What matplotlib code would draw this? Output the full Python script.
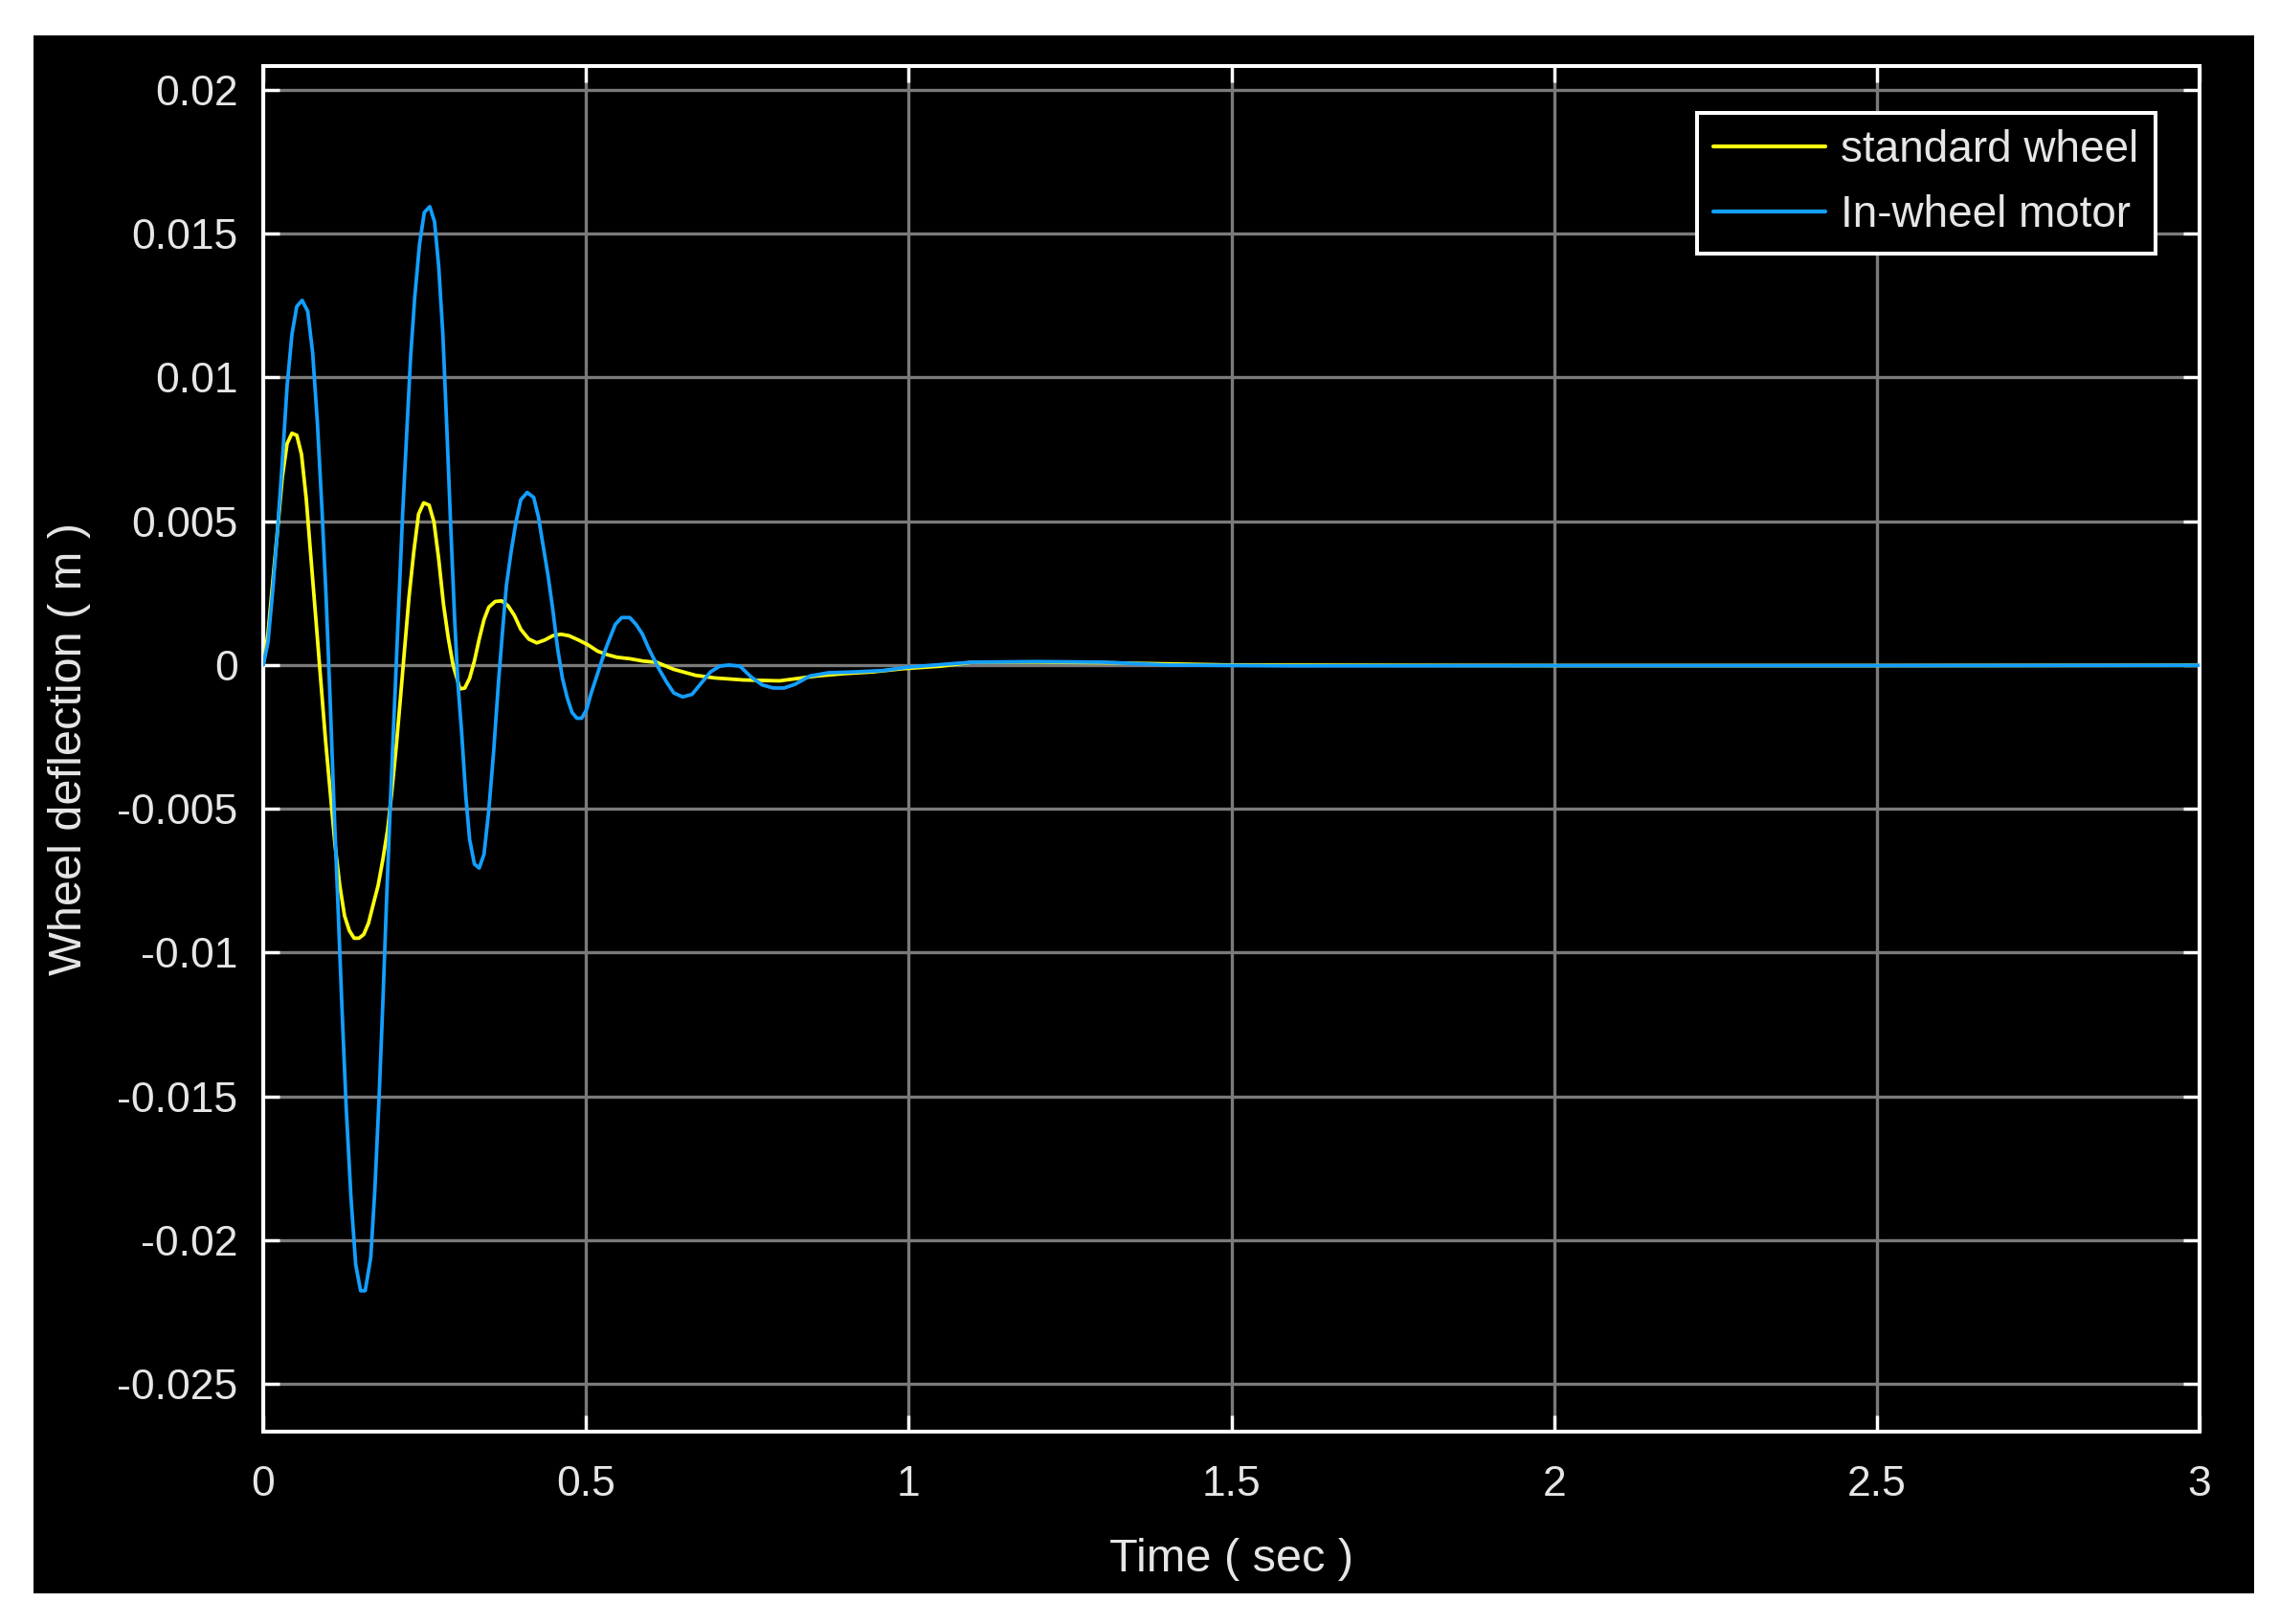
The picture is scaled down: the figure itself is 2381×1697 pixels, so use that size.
import matplotlib
matplotlib.use("Agg")
import matplotlib.pyplot as plt
from matplotlib.patches import Rectangle

# ---- data ----
t_std = [0.0, 0.0074, 0.0148, 0.0222, 0.0297, 0.037, 0.0445, 0.052, 0.0593, 0.0667,
         0.0741, 0.0816, 0.089, 0.0964, 0.1038, 0.1112, 0.1186, 0.126, 0.1335, 0.1409,
         0.1483, 0.1557, 0.1631, 0.1705, 0.178, 0.1854, 0.1928, 0.1992, 0.2061, 0.2126,
         0.219, 0.2259, 0.2333, 0.2407, 0.2486, 0.257, 0.2645, 0.2719, 0.2793, 0.2867,
         0.2941, 0.3049, 0.3123, 0.3198, 0.3272, 0.3346, 0.3421, 0.3495, 0.3594, 0.3694,
         0.3793, 0.3892, 0.3991, 0.4115, 0.4239, 0.4363, 0.4487, 0.4611, 0.4735, 0.4884,
         0.5033, 0.5182, 0.533, 0.5479, 0.5678, 0.5876, 0.61, 0.636, 0.67, 0.70,
         0.744, 0.80, 0.858, 0.90, 0.944, 0.99, 1.05, 1.1, 1.2, 1.3,
         1.5, 2.0, 2.5, 3.0]
y_std = [0.0, 0.0011, 0.0029, 0.0047, 0.00655, 0.0077, 0.00806, 0.00799, 0.00733, 0.00577,
         0.00368, 0.00159, -0.0005, -0.00258, -0.00441, -0.00624, -0.00767, -0.00872, -0.00924, -0.0095,
         -0.0095, -0.00937, -0.00898, -0.00832, -0.00767, -0.00676, -0.00572, -0.00441, -0.00284, -0.00115,
         0.00055, 0.00237, 0.00394, 0.00525, 0.00564, 0.00556, 0.00498, 0.00368, 0.00211, 0.00094,
         0.0, -0.00083, -0.0008, -0.00046, 0.00014, 0.0009, 0.00158, 0.00201, 0.00221, 0.00223,
         0.00206, 0.00172, 0.00124, 0.0009, 0.00077, 0.00087, 0.00102, 0.00107, 0.00102, 0.00087,
         0.0007, 0.00048, 0.00036, 0.00027, 0.00022, 0.00014, 0.00009, -0.00015, -0.00036, -0.00045,
         -0.00052, -0.00055, -0.00038, -0.0003, -0.00024, -0.00013, -0.00004, 0.0001, 0.0001, 0.00008,
         0.0, -0.00002, -0.00002, -0.00001]

t_iwm = [0.0, 0.0074, 0.0148, 0.0222, 0.0297, 0.037, 0.0445, 0.052, 0.0603, 0.069,
         0.0766, 0.084, 0.0914, 0.0974, 0.1038, 0.1097, 0.1162, 0.1221, 0.1285, 0.1359,
         0.1433, 0.1508, 0.158, 0.1666, 0.173, 0.1794, 0.1854, 0.1913, 0.1977, 0.2042,
         0.21, 0.216, 0.2224, 0.2284, 0.2348, 0.2422, 0.2496, 0.258, 0.2654, 0.2719,
         0.2783, 0.2842, 0.2902, 0.2966, 0.3015, 0.3074, 0.3138, 0.3198, 0.3272, 0.3346,
         0.3421, 0.3495, 0.357, 0.3644, 0.3704, 0.3768, 0.3842, 0.3917, 0.3991, 0.409,
         0.419, 0.4264, 0.4338, 0.4413, 0.4487, 0.4562, 0.4636, 0.471, 0.4785, 0.4859,
         0.4934, 0.5008, 0.5082, 0.5157, 0.5231, 0.5306, 0.538, 0.5454, 0.5554, 0.5678,
         0.5777, 0.5876, 0.5975, 0.613, 0.6246, 0.636, 0.650, 0.6644, 0.6787, 0.693,
         0.7072, 0.7215, 0.7385, 0.7557, 0.7729, 0.79, 0.807, 0.824, 0.847, 0.8755,
         0.9155, 0.961, 0.996, 1.058, 1.1, 1.2, 1.3, 1.4, 1.6, 2.0,
         2.5, 3.0]
y_iwm = [0.0, 0.0008, 0.0026, 0.0047, 0.0071, 0.0097, 0.0115, 0.01247, 0.01268, 0.0123,
         0.01086, 0.0084, 0.00525, 0.00237, -0.00128, -0.00493, -0.00859, -0.01198, -0.01537, -0.0185,
         -0.02085, -0.02176, -0.02176, -0.0206, -0.01824, -0.0151, -0.01172, -0.00806, -0.00441, -0.001,
         0.0021, 0.00525, 0.0081, 0.01073, 0.0128, 0.01464, 0.01574, 0.01594, 0.01542, 0.01386,
         0.01151, 0.00838, 0.00498, 0.00159, -0.0006, -0.00233, -0.00454, -0.00607, -0.00692, -0.00706,
         -0.00658, -0.00505, -0.00301, -0.00063, 0.00107, 0.00277, 0.00396, 0.00498, 0.00575, 0.006,
         0.00583, 0.00515, 0.00413, 0.00311, 0.00192, 0.00056, -0.00046, -0.00114, -0.00165, -0.00185,
         -0.00185, -0.00156, -0.00097, -0.00046, 0.00005, 0.00056, 0.00099, 0.00141, 0.00165, 0.00165,
         0.00141, 0.00107, 0.00056, -0.00013, -0.00058, -0.00097, -0.00111, -0.00102, -0.00063, -0.00024,
         -0.00004, 0.0, -0.00004, -0.00041, -0.00069, -0.0008, -0.0008, -0.00067, -0.00038, -0.00027,
         -0.00024, -0.00019, -0.00008, 0.00003, 0.0001, 0.00012, 0.0001, 0.0, -0.00003, -0.00002,
         -0.00002, -0.00001]

labels = ["standard wheel", "In-wheel motor"]
x_ticks = [0, 0.5, 1, 1.5, 2, 2.5, 3]
x_ticklabels = ["0", "0.5", "1", "1.5", "2", "2.5", "3"]
y_ticks = [0.02, 0.015, 0.01, 0.005, 0, -0.005, -0.01, -0.015, -0.02, -0.025]
y_ticklabels = ["0.02", "0.015", "0.01", "0.005", "0", "-0.005", "-0.01", "-0.015", "-0.02", "-0.025"]
x_label = "Time ( sec )"
y_label = "Wheel deflection ( m )"

# ---- style ----
plt.rcParams['font.family'] = ['Liberation Sans', 'DejaVu Sans']
txt = '#e6e6e6'
yellow = (1.0, 1.0, 0.0667)
blue = (0.0745, 0.6235, 1.0)

W, H, DPI = 2381, 1697, 100
fig = plt.figure(figsize=(W / DPI, H / DPI), dpi=DPI, facecolor='white')
bg = Rectangle((35 / W, 1 - 1665 / H), 2320 / W, 1628 / H,
               transform=fig.transFigure, facecolor='black',
               edgecolor='none', zorder=-10)
fig.add_artist(bg)

ax = fig.add_axes([275 / W, 1 - 1496 / H, (2298 - 275) / W, (1496 - 69) / H])
ax.set_zorder(1)
ax.set_facecolor('black')

ax.plot(t_std, y_std, color=yellow, lw=2.7, label=labels[0], zorder=3,
        solid_joinstyle='round', solid_capstyle='round')
ax.plot(t_iwm, y_iwm, color=blue, lw=2.7, label=labels[1], zorder=4,
        solid_joinstyle='round', solid_capstyle='round')

ax.set_xlim(0, 3)
ax.set_ylim(-0.02666, 0.02083)
ax.set_xticks(x_ticks)
ax.set_xticklabels(x_ticklabels)
ax.set_yticks(y_ticks)
ax.set_yticklabels(y_ticklabels)

ax.grid(True, color='#7a7a7a', lw=2.4)
ax.set_axisbelow(True)
for s in ax.spines.values():
    s.set_color('white')
    s.set_linewidth(2.9)

ax.tick_params(axis='both', direction='in', length=12, width=2.4, color='white',
               labelcolor=txt, labelsize=32, top=True, right=True)
ax.tick_params(axis='x', pad=25)
ax.tick_params(axis='y', pad=19)

ax.set_xlabel(x_label, fontsize=35, color=txt, va='center')
ax.set_ylabel(y_label, fontsize=35, color=txt, va='center')
ax.xaxis.set_label_coords(0.5, (1496 - 1629) / 1427)
ax.yaxis.set_label_coords((73 - 275) / 2023, 0.5)

leg = ax.legend(loc='upper right', bbox_to_anchor=(0.9773, 0.9657), borderaxespad=0,
                prop={'size': 33}, frameon=True, fancybox=False, facecolor='black',
                edgecolor='white', framealpha=1, handlelength=2.55, handletextpad=0.35,
                borderpad=0.38, labelspacing=0.52)
leg.get_frame().set_linewidth(2.9)
for tx in leg.get_texts():
    tx.set_color(txt)
for ln in leg.get_lines():
    ln.set_linewidth(3.0)

fig.savefig('out.png', dpi=DPI, facecolor='white')
